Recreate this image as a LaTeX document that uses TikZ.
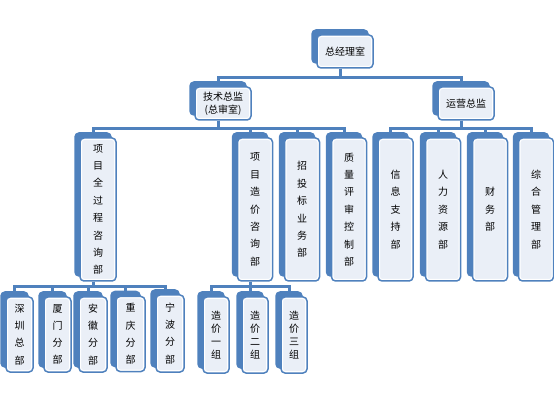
\documentclass[tikz,border=0pt]{standalone}
\usepackage{fontspec}
\usepackage{tikz}
\usetikzlibrary{shadows}
\setmainfont{Noto Sans CJK SC}
\definecolor{orgblue}{RGB}{79,129,189}
\definecolor{orgfill}{RGB}{234,239,247}

\begin{document}
\begin{tikzpicture}[x=1pt, y=-1pt,
  box/.style={draw=orgblue, line width=1.5pt, fill=orgfill, rounded corners=4pt,
    inner sep=0pt, align=center, font=\fontsize{10}{13}\selectfont,
    general shadow={shadow xshift=-5pt, shadow yshift=5pt, fill=orgblue, draw=orgblue},
    path picture={\draw[white, line width=4pt] (path picture bounding box.north west)
      rectangle (path picture bounding box.south east);}},
  headbox/.style={box, minimum width=56pt, minimum height=33pt},
  deptbox/.style={box, minimum width=35pt, minimum height=143pt, font=\fontsize{10}{17.4}\selectfont},
  subbox/.style={box, minimum height=75pt, font=\fontsize{10}{17.2}\selectfont},
  groupbox/.style={box, minimum width=26pt, minimum height=76pt},
  link/.style={orgblue, line width=3pt}]
  \useasboundingbox (0,0) rectangle (554,403);
  % top
  \node[headbox] (zjl) at (345,51.5) {总经理室};
  \node[headbox] (jszj) at (223,103.5) {技术总监\\(总审室)};
  \node[headbox] (yyzj) at (466,103.5) {运营总监};
  % departments
  \node[deptbox, minimum width=36pt] (xmqgc) at (98,209.5) {项\\目\\全\\过\\程\\咨\\询\\部};
  \node[deptbox] (xmzj) at (255,209.5) {项\\目\\造\\价\\咨\\询\\部};
  \node[deptbox] (ztb) at (302,209.5) {招\\投\\标\\业\\务\\部};
  \node[deptbox] (zlps) at (349,209.5) {质\\量\\评\\审\\控\\制\\部};
  \node[deptbox] (xxzc) at (395.5,209.5) {信\\息\\支\\持\\部};
  \node[deptbox] (rlzy) at (443,209.5) {人\\力\\资\\源\\部};
  \node[deptbox] (cwb) at (490,209.5) {财\\务\\部};
  \node[deptbox] (zhgl) at (536,209.5) {综\\合\\管\\理\\部};
  % branches
  \node[subbox, minimum width=27pt] (sz) at (19.5,334.5) {深\\圳\\总\\部};
  \node[subbox, minimum width=27pt] (xm) at (57.5,334.5) {厦\\门\\分\\部};
  \node[subbox, minimum width=28pt] (ah) at (93,334.5) {安\\徽\\分\\部};
  \node[subbox, minimum width=29pt] (cq) at (130.5,334) {重\\庆\\分\\部};
  \node[subbox, minimum width=28pt, minimum height=77pt] (nb) at (170,333.5) {宁\\波\\分\\部};
  % cost groups
  \node[groupbox] (zj1) at (216,335) {造\\价\\一\\组};
  \node[groupbox] (zj2) at (255,335) {造\\价\\二\\组};
  \node[groupbox] (zj3) at (294,335) {造\\价\\三\\组};
  % connectors
  \draw[link] ([xshift=-5pt]zjl.south) -- ++(0,9) -| ([shift={(-5pt,5pt)}]jszj.north);
  \draw[link] ([xshift=-5pt]zjl.south) -- ++(0,9) -| ([shift={(-5pt,5pt)}]yyzj.north);
  \draw[link] ([xshift=-5pt]jszj.south) -- ++(0,8) -| ([shift={(-5pt,5pt)}]xmqgc.north);
  \draw[link] ([xshift=-5pt]jszj.south) -- ++(0,8) -| ([shift={(-5pt,5pt)}]xmzj.north);
  \draw[link] ([xshift=-5pt]jszj.south) -- ++(0,8) -| ([shift={(-5pt,5pt)}]ztb.north);
  \draw[link] ([xshift=-5pt]jszj.south) -- ++(0,8) -| ([shift={(-5pt,5pt)}]zlps.north);
  \draw[link] ([xshift=-5pt]yyzj.south) -- ++(0,8) -| ([shift={(-5pt,5pt)}]xxzc.north);
  \draw[link] ([xshift=-5pt]yyzj.south) -- ++(0,8) -| ([shift={(-5pt,5pt)}]rlzy.north);
  \draw[link] ([xshift=-5pt]yyzj.south) -- ++(0,8) -| ([shift={(-5pt,5pt)}]cwb.north);
  \draw[link] ([xshift=-5pt]yyzj.south) -- ++(0,8) -| ([shift={(-5pt,5pt)}]zhgl.north);
  \draw[link] ([xshift=-5pt]xmqgc.south) -- ++(0,5) -| ([shift={(-5pt,5pt)}]sz.north);
  \draw[link] ([xshift=-5pt]xmqgc.south) -- ++(0,5) -| ([shift={(-5pt,5pt)}]xm.north);
  \draw[link] ([xshift=-5pt]xmqgc.south) -- ++(0,5) -| ([shift={(-5pt,5pt)}]ah.north);
  \draw[link] ([xshift=-5pt]xmqgc.south) -- ++(0,5) -| ([shift={(-5pt,5pt)}]cq.north);
  \draw[link] ([xshift=-5pt]xmqgc.south) -- ++(0,5) -| ([shift={(-5pt,5pt)}]nb.north);
  \draw[link] ([xshift=-5pt]xmzj.south) -- ++(0,5) -| ([shift={(-5pt,5pt)}]zj1.north);
  \draw[link] ([xshift=-5pt]xmzj.south) -- ++(0,5) -| ([shift={(-5pt,5pt)}]zj2.north);
  \draw[link] ([xshift=-5pt]xmzj.south) -- ++(0,5) -| ([shift={(-5pt,5pt)}]zj3.north);
\end{tikzpicture}
\end{document}
